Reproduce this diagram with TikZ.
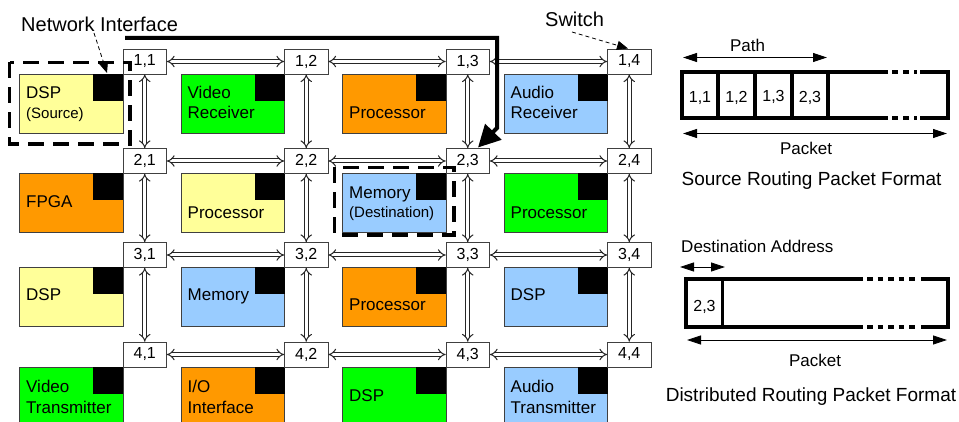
\documentclass[tikz,border=0pt]{standalone}
\usepackage{fontspec}
\setmainfont{Liberation Sans}
\usetikzlibrary{arrows.meta,calc}
\definecolor{peyel}{HTML}{FFFF99}
\definecolor{pegrn}{HTML}{00FF00}
\definecolor{peorg}{HTML}{FF9900}
\definecolor{peblu}{HTML}{99CCFF}
\newcommand\fsz[1]{\fontsize{#1}{#1}\selectfont}
\newcommand\peblock[3]{%
  \draw[peline, fill=#3] (#1-103.5,#2+25) rectangle (#1,#2+84);
  \fill[black] (#1-30,#2+25) rectangle (#1,#2+52);}
\begin{document}
\begin{tikzpicture}[x=1pt,y=-1pt,
  peline/.style={draw=black!75, line width=0.6pt},
  sw/.style={draw=black!75, line width=0.6pt, fill=white, minimum width=43.5pt, minimum height=25pt, inner sep=0pt, font=\fsz{16}},
  pet/.style={anchor=base west, inner sep=0pt, font=\fsz{17}},
  pesub/.style={anchor=base west, inner sep=0pt, font=\fsz{15}},
  link/.style={draw=black!85, line width=1pt, double=white, double distance=3pt, {Implies[scale=1.2]}-{Implies[scale=1.2]}},
  region/.style={line width=3.5pt, dash pattern=on 16pt off 9pt},
  callout/.style={line width=0.8pt, dash pattern=on 4pt off 3pt, -{Triangle[length=11pt,width=9pt]}},
  lbl/.style={anchor=base west, inner sep=0pt, font=\fsz{20}},
  pkt/.style={line width=3.5pt},
  dim/.style={line width=0.8pt, {Triangle[length=14pt,width=9pt]}-{Triangle[length=14pt,width=9pt]}},
  ptxt/.style={anchor=base, inner sep=0pt, font=\fsz{17}},
  ttl/.style={anchor=base, inner sep=0pt, font=\fsz{19}},
  ctxt/.style={anchor=base, inner sep=0pt, font=\fsz{16}}]
\useasboundingbox (0,0) rectangle (959,422);
% ---- processing elements
\peblock{123}{49}{peyel}
\peblock{284.5}{49}{pegrn}
\peblock{446}{49}{peorg}
\peblock{607.5}{49}{peblu}
\peblock{123}{148.5}{peorg}
\peblock{284.5}{148.5}{peyel}
\peblock{446}{148.5}{peblu}
\peblock{607.5}{148.5}{pegrn}
\peblock{123}{242.5}{peyel}
\peblock{284.5}{242.5}{peblu}
\peblock{446}{242.5}{peorg}
\peblock{607.5}{242.5}{peblu}
\peblock{123}{342}{pegrn}
\peblock{284.5}{342}{peorg}
\peblock{446}{342}{pegrn}
\peblock{607.5}{342}{peblu}
% ---- texts of the processing elements
\node[pet] (t11a) at (26,99) {DSP};
\node[pesub] (t11b) at (26,118.5) {(Source)};
\node[pet] (t12a) at (187.5,99) {Video};
\node[pet] (t12b) at (187.5,119) {Receiver};
\node[pet] (t13) at (349,119) {Processor};
\node[pet] (t14a) at (510.5,99) {Audio};
\node[pet] (t14b) at (510.5,119) {Receiver};
\node[pet] (t21) at (26,208) {FPGA};
\node[pet] (t22) at (187.5,219) {Processor};
\node[pet] (t23a) at (349,199) {Memory};
\node[pesub] (t23b) at (349,218) {(Destination)};
\node[pet] (t24) at (510.5,219) {Processor};
\node[pet] (t31) at (26,301) {DSP};
\node[pet] (t32) at (187.5,301) {Memory};
\node[pet] (t33) at (349,311) {Processor};
\node[pet] (t34) at (510.5,301) {DSP};
\node[pet] (t41a) at (26,392) {Video};
\node[pet] (t41b) at (26,413) {Transmitter};
\node[pet] (t42a) at (187.5,392) {I/O};
\node[pet] (t42b) at (187.5,413) {Interface};
\node[pet] (t43) at (349,401) {DSP};
\node[pet] (t44a) at (510.5,392) {Audio};
\node[pet] (t44b) at (510.5,413) {Transmitter};
% ---- switches
\foreach \r/\ty in {1/49,2/148.5,3/242.5,4/342}
  \foreach \c/\sx in {1/123,2/284.5,3/446,4/607.5}
    \node[sw] (s\r\c) at (\sx+21.75,\ty+12.5) {\r,\c};
% ---- links
\foreach \r in {1,2,3,4}{
  \draw[link] (s\r1.east) -- (s\r2.west);
  \draw[link] (s\r2.east) -- (s\r3.west);
  \draw[link] (s\r3.east) -- (s\r4.west);}
\foreach \c in {1,2,3,4}{
  \draw[link] (s1\c.south) -- (s2\c.north);
  \draw[link] (s2\c.south) -- (s3\c.north);
  \draw[link] (s3\c.south) -- (s4\c.north);}
% ---- source and destination regions
\draw[region] (9.5,62.5) rectangle (130,144);
\draw[region] (334.5,167.5) rectangle (454,235);
% ---- route
\coordinate (r0) at (125,38);
\coordinate (r1) at (497,38);
\coordinate (r2) at (497,128);
\coordinate (rtip) at (478,147.5);
\draw[line width=4pt, line join=miter, -{Triangle[length=22pt,width=22pt]}] (r0) -- (r1) -- (r2) -- (rtip);
% ---- callouts
\node[lbl] (ni) at (21,31.5) {Network Interface};
\coordinate (nitip) at (107,73);
\draw[callout] (94,33) -- (nitip);
\node[lbl] (swl) at (545,27) {Switch};
\coordinate (swtip) at (628,48.5);
\draw[callout] (572,32) -- (swtip);
% ---- source routing packet format
\coordinate (pa) at (683,57.5);
\coordinate (pb) at (827,57.5);
\draw[dim] (pa) -- (pb);
\node[ptxt] (path) at (747.5,51.5) {Path};
\draw[pkt, line join=miter] (888,72) -- (682,72) -- (682,118) -- (888,118);
\draw[pkt, line join=miter] (920,72) -- (948,72) -- (948,118) -- (920,118);
\draw[pkt, dash pattern=on 6pt off 5pt] (892,72) -- (917,72);
\draw[pkt, dash pattern=on 6pt off 5pt] (892,118) -- (917,118);
\foreach \x in {718,755,792,828} \draw[pkt] (\x,72) -- (\x,118);
\node[ctxt] (c1) at (700,103) {1,1};
\node[ctxt] (c2) at (736.5,103) {1,2};
\node[ctxt] (c3) at (773.5,101.5) {1,3};
\node[ctxt] (c4) at (810,102.5) {2,3};
\coordinate (qa) at (683,133.5);
\coordinate (qb) at (947,133.5);
\draw[dim] (qa) -- (qb);
\node[ptxt] (pk1) at (806,155) {Packet};
\node[ttl] (srpf) at (811.5,185.5) {Source Routing Packet Format};
% ---- distributed routing packet format
\node[ptxt] (da) at (757.3,252.3) {Destination Address};
\coordinate (dda) at (680,267);
\coordinate (ddb) at (725,267);
\draw[dim] (dda) -- (ddb);
\draw[pkt, line join=miter] (863,279) -- (686,279) -- (686,327) -- (863,327);
\draw[pkt, line join=miter] (921,279) -- (948,279) -- (948,327) -- (921,327);
\draw[pkt, dash pattern=on 5.5pt off 5pt] (867,279) -- (918,279);
\draw[pkt, dash pattern=on 5.5pt off 5pt] (867,327) -- (918,327);
\draw[pkt] (722.7,279) -- (722.7,327);
\node[ctxt] (d1) at (704.5,311.5) {2,3};
\coordinate (ea) at (687,340);
\coordinate (eb) at (947,340);
\draw[dim] (ea) -- (eb);
\node[ptxt] (pk2) at (815,366.5) {Packet};
\node[ttl] (drpf) at (811,401.5) {Distributed Routing Packet Format};
\end{tikzpicture}
\end{document}
